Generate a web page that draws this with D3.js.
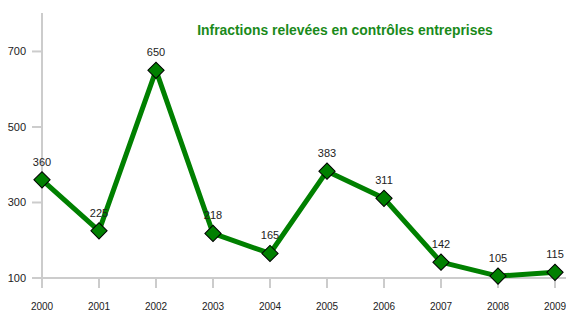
<!DOCTYPE html>
<html><head><meta charset="utf-8">
<script src="https://cdn.jsdelivr.net/npm/d3@7"></script>
<style>body{margin:0;background:#fff}svg{display:block}</style>
</head><body>
<script>
const years = ["2000","2001","2002","2003","2004","2005","2006","2007","2008","2009"];
const values = [360,225,650,218,165,383,311,142,105,115];
const yTicks = [100,300,500,700];
const title = "Infractions relevées en contrôles entreprises";

const W = 566, H = 311;
const svg = d3.select("body").append("svg").attr("width", W).attr("height", H);
const x = d3.scalePoint().domain(years).range([42, 555]);
const y = d3.scaleLinear().domain([100, 800]).range([278, 13.7]);

// y axis
svg.append("line").attr("x1",42).attr("x2",42).attr("y1",13).attr("y2",288)
  .attr("stroke","#ccc").attr("stroke-width",2);
svg.append("line").attr("x1",32).attr("x2",W).attr("y1",y(100)).attr("y2",y(100))
  .attr("stroke","#ccc").attr("stroke-width",2);
yTicks.forEach(t=>{
  svg.append("line").attr("x1",32).attr("x2",42).attr("y1",y(t)).attr("y2",y(t))
    .attr("stroke","#ccc").attr("stroke-width",2);
  svg.append("text").attr("x",26).attr("y",y(t)+4).attr("text-anchor","end")
    .attr("font-family","Liberation Sans, Arial").attr("font-size",11).attr("fill","#222").text(t);
});
years.forEach(yr=>{
  svg.append("line").attr("x1",x(yr)).attr("x2",x(yr)).attr("y1",y(100)).attr("y2",288)
    .attr("stroke","#ccc").attr("stroke-width",2);
  svg.append("text").attr("x",x(yr)).attr("y",310).attr("text-anchor","middle")
    .attr("font-family","Liberation Sans, Arial").attr("font-size",10).attr("fill","#222").text(yr);
});

const line = d3.line().x((d,i)=>x(years[i])).y(d=>y(d));
svg.append("path").datum(values).attr("d",line).attr("fill","none")
  .attr("stroke","#008000").attr("stroke-width",5).attr("stroke-linejoin","round");

const sym = d3.symbol().type(d3.symbolSquare).size(132);
svg.selectAll("path.m").data(values).enter().append("path").attr("class","m")
  .attr("d",sym).attr("transform",(d,i)=>`translate(${x(years[i])},${y(d)}) rotate(45)`)
  .attr("fill","#008000").attr("stroke","#000").attr("stroke-width",1);

svg.selectAll("text.v").data(values).enter().append("text").attr("class","v")
  .attr("x",(d,i)=>x(years[i])).attr("y",d=>y(d)-14).attr("text-anchor","middle")
  .attr("font-family","Liberation Sans, Arial").attr("font-size",11).attr("fill","#222").text(d=>d);

svg.append("text").attr("x",345).attr("y",35).attr("text-anchor","middle")
  .attr("font-family","Liberation Sans, Arial").attr("font-weight","bold").attr("font-size",13.9)
  .attr("fill","#1a8a1a").text(title);
</script>
</body></html>
